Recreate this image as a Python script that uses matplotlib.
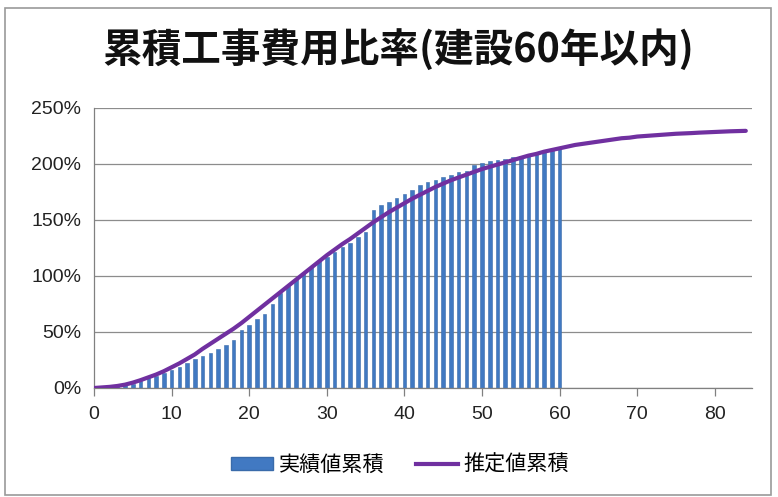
import numpy as np
import matplotlib
matplotlib.use("Agg")
import matplotlib.pyplot as plt
from matplotlib.patches import Rectangle, Patch
from matplotlib.lines import Line2D

plt.rcParams['font.family'] = ['Liberation Sans', 'Noto Sans CJK JP', 'DejaVu Sans']

title = "累積工事費用比率(建設60年以内)"
bar_label = "実績値累積"
line_label = "推定値累積"

# Actual cumulative cost ratio (%) by years since construction
bar_years = list(range(1, 61))
bar_values = [
    0.5, 1, 1.5, 2.5, 4, 6, 8.5, 10.5, 13.5, 16,
    19, 22, 25.5, 28.5, 31, 34.5, 38.5, 43, 52, 56,
    61.5, 66.5, 75, 85, 91, 97, 102.5, 108, 113, 117,
    121.5, 125.5, 129.5, 135, 139.5, 159, 163, 166, 169.5, 173,
    177, 181, 183.5, 186, 188.5, 190.5, 192.5, 193.5, 199.5, 201,
    202.5, 203.5, 204.5, 206, 207, 209, 210.5, 212, 213, 215,
]

# Estimated cumulative cost ratio (%) by years since construction
line_years = list(range(0, 85))
line_values = [
    0, 0.5, 1, 1.8, 3, 4.8, 7, 9.5, 12, 15,
    18.5, 22, 26, 30, 35, 39.5, 44, 48.5, 53, 58,
    63.5, 69, 74.5, 80, 85.5, 91, 96.5, 102, 107.5, 113,
    118.5, 123.5, 128.5, 133, 138, 143, 148, 152.5, 157, 161,
    165, 169, 172.5, 176, 179.5, 182.5, 185.5, 188, 190.5, 193,
    195.5, 197.5, 199.5, 201.5, 203.5, 205.5, 207.5, 209, 211, 212.5,
    214, 215.5, 217, 218, 219, 220, 221, 222, 223, 223.5,
    224.5, 225, 225.5, 226, 226.5, 227, 227.3, 227.6, 228, 228.3,
    228.6, 228.9, 229.2, 229.4, 229.6,
]

x_ticks = [0, 10, 20, 30, 40, 50, 60, 70, 80]
y_ticks = [0, 50, 100, 150, 200, 250]

W, H = 778, 497
fig = plt.figure(figsize=(W / 100, H / 100), dpi=100)
fig.patch.set_facecolor("white")

# chart frame
fig.add_artist(Rectangle((5 / W, 1 - 495 / H), 766 / W, 487 / H,
                         transform=fig.transFigure, fill=False,
                         edgecolor="#9a9a9a", linewidth=1.2))

ax = fig.add_axes([94 / W, 1 - 388 / H, (752 - 94) / W, 280 / H])
ax.set_facecolor("white")

bar_color = "#4179C2"
line_color = "#7030A0"

ax.bar(bar_years, bar_values, width=0.46, color=bar_color,
       edgecolor="#3A6BAA", linewidth=0.4, zorder=2)
ax.plot(line_years, line_values, color=line_color, linewidth=3.0,
        solid_capstyle="round", zorder=3)

ax.set_xlim(0, 84.8)
ax.set_ylim(0, 250)
ax.set_xticks(x_ticks)
ax.set_yticks(y_ticks)
ax.set_yticklabels([f"{v}%" for v in y_ticks])
ax.tick_params(axis="x", direction="out", length=6, width=0.9, color="#808080",
               labelsize=14, pad=7, labelcolor="#222222")
ax.tick_params(axis="y", direction="out", length=0, labelsize=14, pad=9,
               labelcolor="#222222")

ax.grid(axis="y", color="#8c8c8c", linewidth=0.9, zorder=0)
ax.set_axisbelow(True)
for side in ("top", "right"):
    ax.spines[side].set_visible(False)
for side in ("left", "bottom"):
    ax.spines[side].set_color("#808080")
    ax.spines[side].set_linewidth(0.9)

fig.text(398 / W, 1 - 50 / H, title, ha="center", va="center",
         fontsize=28.5, fontweight="bold",
         family=["Noto Sans CJK JP", "DejaVu Sans"], color="#111111")

handles = [
    Patch(facecolor=bar_color, edgecolor="#3A6BAA", label=bar_label),
    Line2D([0], [0], color=line_color, linewidth=3.0, label=line_label),
]
fig.legend(handles=handles, loc="center", bbox_to_anchor=(400 / W, 1 - 465 / H),
           ncol=2, frameon=False, handlelength=2.0, handleheight=0.55,
           handletextpad=0.25, columnspacing=1.5,
           prop={"family": ["Noto Sans CJK JP"], "size": 15.2})

fig.savefig("out.png", dpi=100, facecolor="white")
